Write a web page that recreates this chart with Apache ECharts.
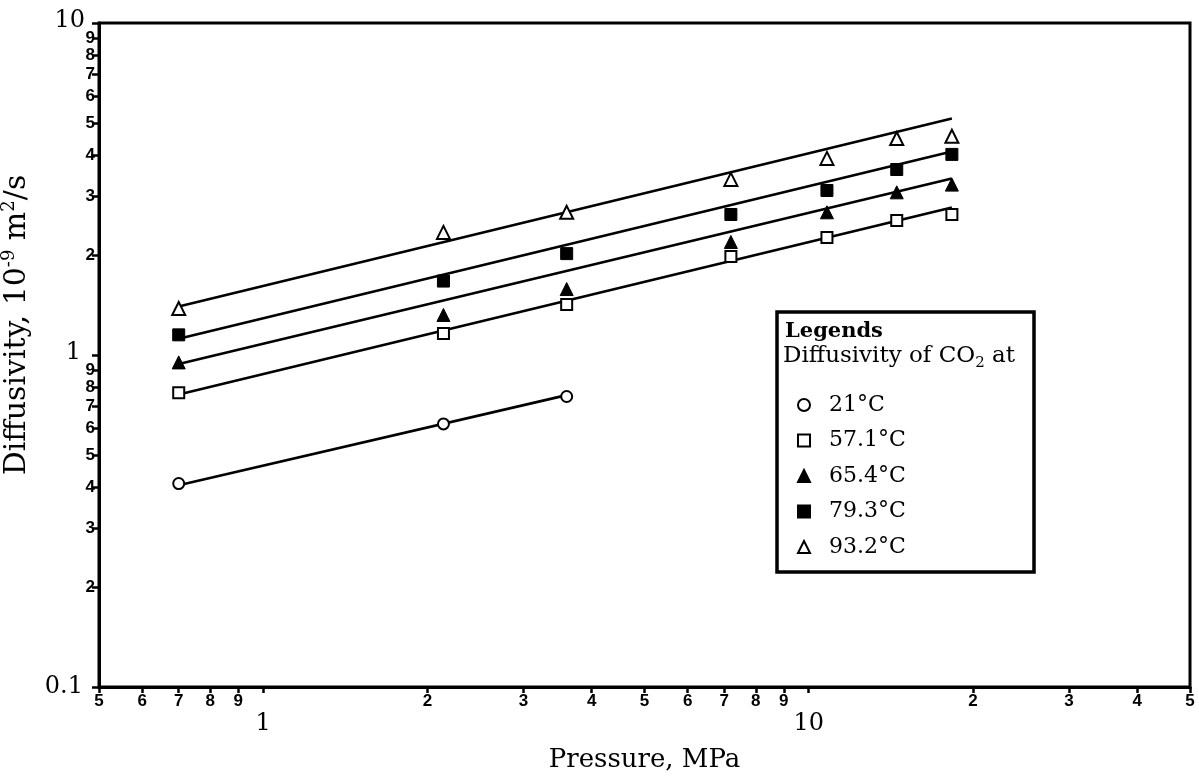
<!DOCTYPE html>
<html>
<head>
<meta charset="utf-8">
<script src="https://cdn.jsdelivr.net/npm/echarts@6/dist/echarts.min.js"></script>
<style>
  html, body { margin: 0; padding: 0; background: #fff; }
  #chart { width: 1199px; height: 778px; }
</style>
</head>
<body>
<div id="chart"></div>
<script>
// Measured pressures (MPa)
const pressures = [0.7, 2.14, 3.6, 7.2, 10.8, 14.5, 18.3];
// Legend entries (temperature of each run)
const temps = ['21°C', '57.1°C', '65.4°C', '79.3°C', '93.2°C'];
// Diffusivity of CO2, 10^-9 m^2/s
const d21 = [0.41, 0.62, 0.75];
const d57 = [0.77, 1.16, 1.42, 1.98, 2.26, 2.54, 2.65];
const d65 = [0.95, 1.32, 1.58, 2.19, 2.69, 3.09, 3.26];
const d79 = [1.15, 1.67, 2.02, 2.65, 3.13, 3.62, 4.02];
const d93 = [1.38, 2.34, 2.69, 3.38, 3.91, 4.49, 4.56];
// Straight-line fits: pressure at both ends, and diffusivity at both ends
const fitP = [0.7, 18.3];
const fitP21 = [0.7, 3.6];
const fit21 = [0.405, 0.757];
const fit57 = [0.76, 2.78];
const fit65 = [0.94, 3.40];
const fit79 = [1.12, 4.10];
const fit93 = [1.40, 5.16];
// Tick positions on both logarithmic axes
const xTicks = [0.5, 0.6, 0.7, 0.8, 0.9, 1, 2, 3, 4, 5, 6, 7, 8, 9, 10, 20, 30, 40, 50];
const yTicks = [0.1, 0.2, 0.3, 0.4, 0.5, 0.6, 0.7, 0.8, 0.9, 1, 2, 3, 4, 5, 6, 7, 8, 9, 10];

const SERIF = 'DejaVu Serif';
const SANS = 'Liberation Sans';

function isDecade(v) {
  const l = Math.log10(v);
  return Math.abs(l - Math.round(l)) < 1e-6;
}
function leadDigit(v) {
  return Math.round(v / Math.pow(10, Math.floor(Math.log10(v) + 1e-9)));
}

const pairs = (xs, ys) => ys.map((y, i) => [xs[i], y]);

const openStyle = { color: '#fff', borderColor: '#000', borderWidth: 2, opacity: 1 };
const solidStyle = { color: '#000', borderColor: '#000', borderWidth: 1, opacity: 1 };

function fitLine(name, xs, ys) {
  return {
    name: name, type: 'line', data: pairs(xs, ys), symbol: 'none', silent: true,
    lineStyle: { color: '#000', width: 2.6 }, z: 2
  };
}
function points(name, ys, symbol, size, style) {
  return {
    name: name, type: 'scatter', data: pairs(pressures, ys),
    symbol: symbol, symbolSize: size, itemStyle: style, z: 3
  };
}

const chart = echarts.init(document.getElementById('chart'), null, { renderer: 'canvas' });

chart.setOption({
  animation: false,
  backgroundColor: '#fff',
  grid: {
    left: 99, right: 9, top: 23, bottom: 91,
    show: true, borderColor: '#000', borderWidth: 3,
    containLabel: false, outerBoundsMode: 'none'
  },
  xAxis: {
    type: 'log', logBase: 10, min: 0.5, max: 50,
    name: 'Pressure, MPa', nameLocation: 'middle', nameGap: 60,
    nameTextStyle: { fontFamily: SERIF, fontSize: 26, color: '#000' },
    axisLine: { show: true, lineStyle: { color: '#000', width: 3 } },
    axisTick: { show: true, customValues: xTicks, length: 6, lineStyle: { color: '#000', width: 2.5 } },
    minorTick: { show: false },
    splitLine: { show: false },
    axisLabel: {
      customValues: xTicks, margin: 6, color: '#000',
      formatter: v => isDecade(v) ? '{maj|' + Math.round(v) + '}' : '{mnr|' + leadDigit(v) + '}',
      rich: {
        maj: { fontFamily: SERIF, fontSize: 24, color: '#000', padding: [19, 0, 0, 0] },
        mnr: { fontFamily: SANS, fontWeight: 'bold', fontSize: 17, color: '#000' }
      }
    }
  },
  yAxis: {
    type: 'log', logBase: 10, min: 0.1, max: 10,
    name: 'Diffusivity, 10{sup|-9} m{sup|2}/s', nameLocation: 'middle', nameGap: 48, nameRotate: 90,
    nameTextStyle: {
      fontFamily: SERIF, fontSize: 30, color: '#000', lineHeight: 34, padding: [0, 0, 0, 60],
      rich: { sup: { fontFamily: SERIF, fontSize: 18, lineHeight: 19, verticalAlign: 'top', color: '#000' } }
    },
    axisLine: { show: true, lineStyle: { color: '#000', width: 3 } },
    axisTick: { show: true, customValues: yTicks, length: 7, lineStyle: { color: '#000', width: 2.5 } },
    minorTick: { show: false },
    splitLine: { show: false },
    axisLabel: {
      customValues: yTicks, margin: 4, color: '#000',
      formatter: v => {
        if (!isDecade(v)) return '{mnr|' + leadDigit(v) + '}';
        if (v > 5) return '{ten|10}';
        if (v > 0.5) return '{one|1}';
        return '{tenth|0.1}';
      },
      rich: {
        ten: { fontFamily: SERIF, fontSize: 24, color: '#000', padding: [0, 10, 4, 0] },
        one: { fontFamily: SERIF, fontSize: 24, color: '#000', padding: [0, 14, 4, 0] },
        tenth: { fontFamily: SERIF, fontSize: 24, color: '#000', padding: [0, 12, 0, 0] },
        mnr: { fontFamily: SANS, fontWeight: 'bold', fontSize: 17, color: '#000' }
      }
    }
  },
  legend: {
    data: temps, orient: 'vertical', left: 792, top: 388,
    itemWidth: 12, itemHeight: 12, itemGap: 11.5,
    selectedMode: false,
    textStyle: { fontFamily: SERIF, fontSize: 22, color: '#000', lineHeight: 24, padding: [0, 0, 0, 14] }
  },
  graphic: [
    {
      type: 'rect', z: 0,
      shape: { x: 777, y: 312, width: 257, height: 260 },
      style: { fill: '#fff', stroke: '#000', lineWidth: 3.5 }
    },
    {
      type: 'text', left: 785, top: 321, z: 1,
      style: { text: 'Legends', fontFamily: SERIF, fontWeight: 'bold', fontSize: 21, fill: '#000' }
    },
    {
      type: 'text', left: 783, top: 341, z: 1,
      style: {
        text: 'Diffusivity of CO{sub|2} at', fontFamily: SERIF, fontSize: 23, fill: '#000', lineHeight: 30,
        rich: { sub: { fontFamily: SERIF, fontSize: 15, lineHeight: 16, verticalAlign: 'bottom', fill: '#000' } }
      }
    }
  ],
  series: [
    fitLine('fit 21°C', fitP21, fit21),
    fitLine('fit 57.1°C', fitP, fit57),
    fitLine('fit 65.4°C', fitP, fit65),
    fitLine('fit 79.3°C', fitP, fit79),
    fitLine('fit 93.2°C', fitP, fit93),
    points(temps[0], d21, 'circle', 11, openStyle),
    points(temps[1], d57, 'rect', 11, openStyle),
    points(temps[2], d65, 'triangle', 13, solidStyle),
    points(temps[3], d79, 'rect', 12, solidStyle),
    points(temps[4], d93, 'triangle', 13, openStyle)
  ]
});
</script>
</body>
</html>
